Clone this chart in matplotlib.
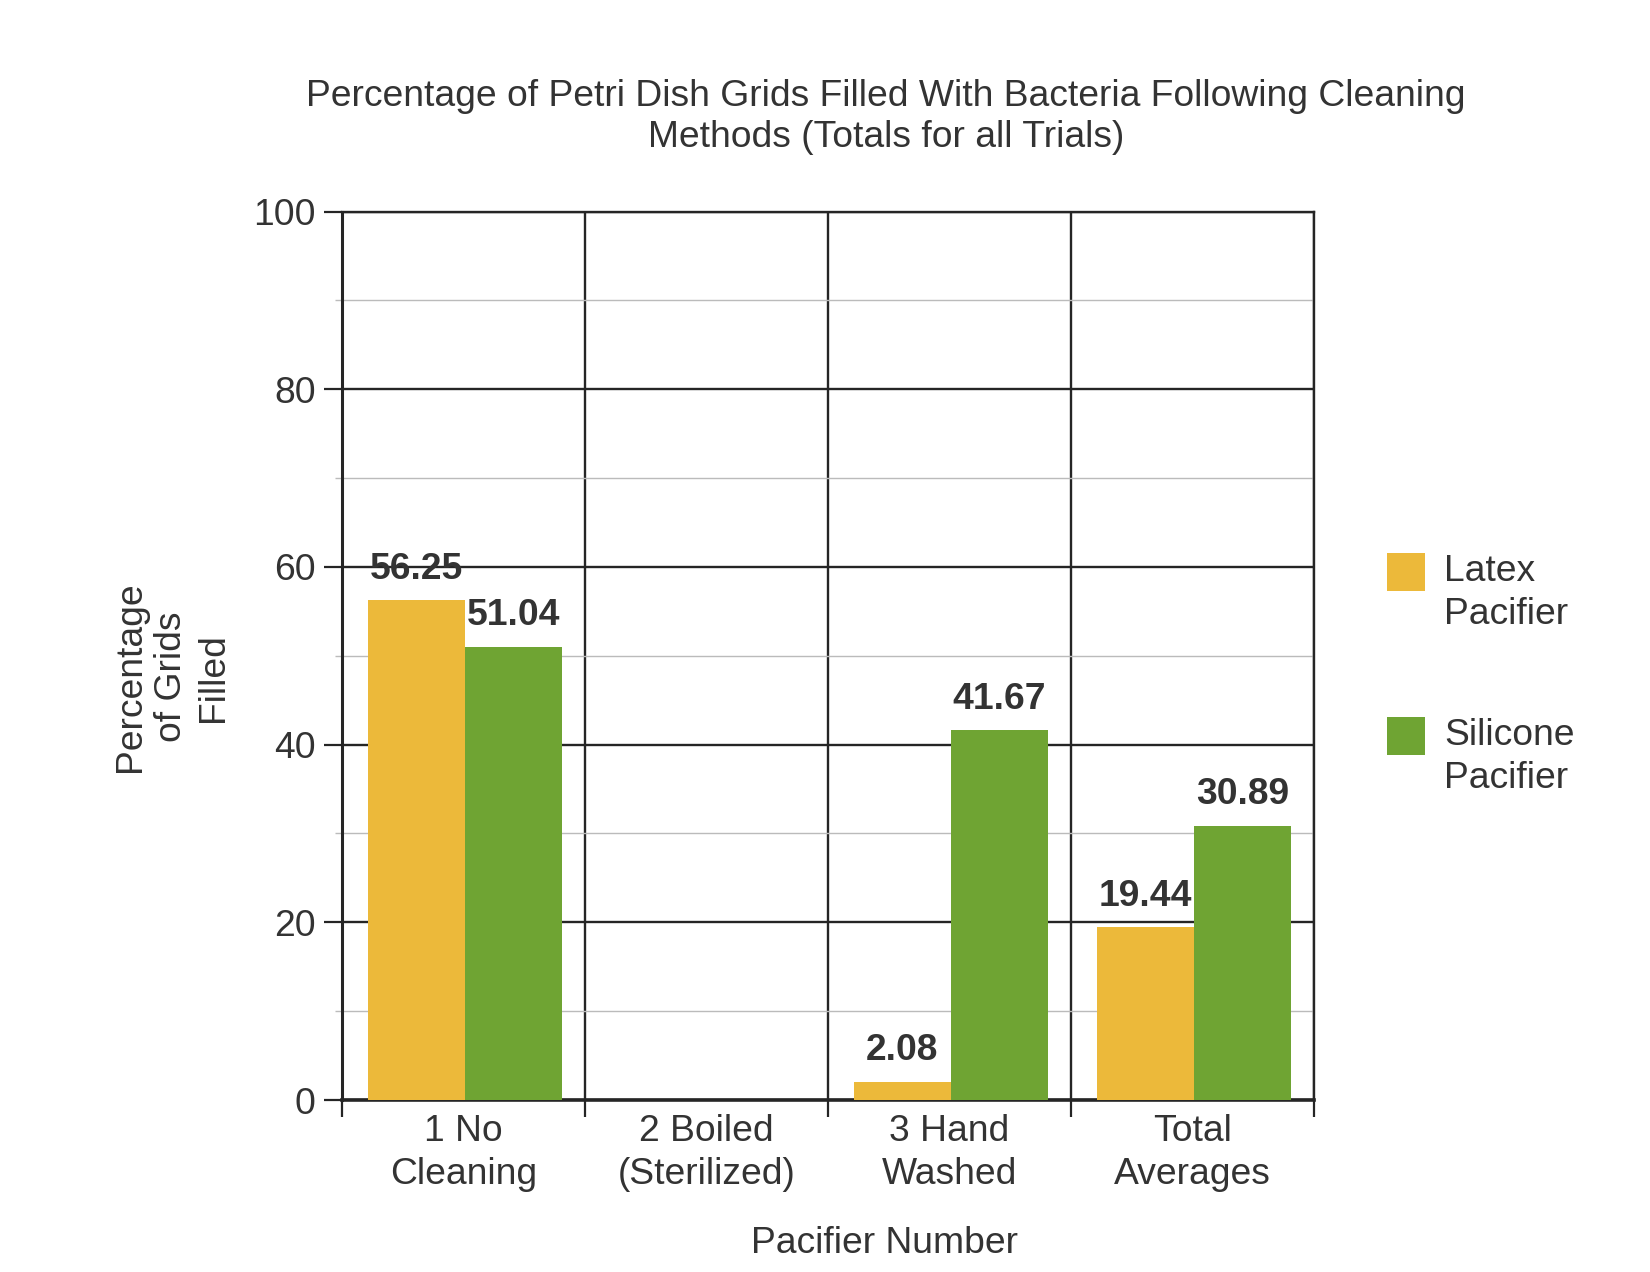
import matplotlib
matplotlib.use("Agg")
import matplotlib.pyplot as plt
from matplotlib.patches import Rectangle
from matplotlib.legend_handler import HandlerPatch, update_from_first_child
from matplotlib.container import BarContainer
import numpy as np

categories = ["1 No\nCleaning", "2 Boiled\n(Sterilized)", "3 Hand\nWashed", "Total\nAverages"]
latex = [56.25, 0.0, 2.08, 19.44]
silicone = [51.04, 0.0, 41.67, 30.89]
series_names = ["Latex\nPacifier", "Silicone\nPacifier"]
title = "Percentage of Petri Dish Grids Filled With Bacteria Following Cleaning\nMethods (Totals for all Trials)"
ylabel = "Percentage\nof Grids\nFilled"
xlabel = "Pacifier Number"

YELLOW = "#ECB93A"
GREEN = "#6FA433"
TXT = "#333333"
LINE = "#252525"
FS = 26.8

plt.rcParams['font.family'] = ['Liberation Sans', 'DejaVu Sans']

fig = plt.figure(figsize=(16.5, 12.72), dpi=100)
fig.patch.set_facecolor("white")
ax = fig.add_axes([342/1650, 1 - 1100/1272, 972/1650, 888.5/1272])

n = len(categories)
centers = np.arange(n) + 0.505
w = 0.40
b1 = ax.bar(centers - w/2, latex, w, color=YELLOW, label=series_names[0], zorder=3)
b2 = ax.bar(centers + w/2, silicone, w, color=GREEN, label=series_names[1], zorder=3)

for bars, vals in ((b1, latex), (b2, silicone)):
    for rect, v in zip(bars, vals):
        if v > 0:
            ax.annotate(f"{v:.2f}", (rect.get_x() + rect.get_width()/2, v),
                        xytext=(0, 9.5), textcoords="offset points",
                        ha="center", va="bottom", fontsize=FS, fontweight="bold",
                        color=TXT, zorder=5)

ax.set_xlim(0, n)
ax.set_ylim(0, 100)

# y ticks
ax.set_yticks(np.arange(0, 101, 20))
ax.set_yticks(np.arange(10, 100, 20), minor=True)
ax.tick_params(axis="y", which="major", length=13, width=1.6, color=LINE,
               labelsize=FS, labelcolor=TXT, pad=6)
ax.tick_params(axis="y", which="minor", length=5, width=1, color="#bbbbbb")

# x ticks: boundaries as marks, labels at centers
ax.set_xticks(np.arange(0, n + 1))
ax.set_xticklabels([""] * (n + 1))
ax.set_xticks(np.arange(n) + 0.5, minor=True)
ax.set_xticklabels(categories, minor=True)
ax.tick_params(axis="x", which="major", length=12.5, width=1.6, color=LINE)
ax.tick_params(axis="x", which="minor", length=0, labelsize=FS, labelcolor=TXT, pad=10)
for t in ax.get_xticklabels(minor=True):
    t.set_linespacing(1.3)

# grid
ax.grid(True, which="major", axis="both", color=LINE, linewidth=1.7, zorder=1)
ax.grid(True, which="minor", axis="y", color="#bbbbbb", linewidth=1.0, zorder=0)
ax.set_axisbelow(True)

for s in ax.spines.values():
    s.set_color(LINE)
    s.set_linewidth(1.7)
ax.spines["bottom"].set_linewidth(2.6)
ax.spines["left"].set_linewidth(2.2)

ax.set_ylabel(ylabel, fontsize=FS, color=TXT, ha="center", va="center",
              multialignment="center", linespacing=1.25)
ax.yaxis.set_label_coords(-0.175, 0.476)
ax.set_xlabel(xlabel, fontsize=FS, color=TXT, va="center")
ax.xaxis.set_label_coords(0.5586, -0.161)

fig.text(886/1650, 1 - 117/1272, title, ha="center", va="center", fontsize=FS,
         color=TXT, linespacing=1.25, multialignment="center")


def top_square(legend, orig_handle, xdescent, ydescent, width, height, fontsize):
    return Rectangle((-xdescent, 0.41 * fontsize), width, 1.0 * width)


leg = fig.legend(handles=[b1, b2], labels=series_names, loc="upper left",
                 bbox_to_anchor=(1387/1650, 1 - 554/1272), frameon=False,
                 fontsize=FS, handlelength=1.02, handleheight=1.0,
                 handletextpad=0.52, labelspacing=2.3, borderpad=0,
                 borderaxespad=0,
                 handler_map={BarContainer: HandlerPatch(patch_func=top_square,
                                                         update_func=update_from_first_child)})
for t in leg.get_texts():
    t.set_color(TXT)
    t.set_linespacing(1.3)

fig.savefig("out.png", dpi=100, facecolor=fig.get_facecolor())
